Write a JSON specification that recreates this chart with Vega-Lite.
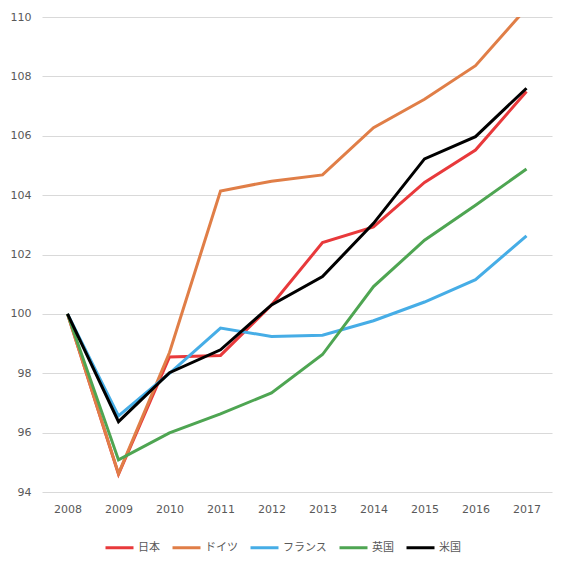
{
  "$schema": "https://vega.github.io/schema/vega-lite/v6.json",
  "width": 510,
  "height": 475,
  "autosize": "none",
  "padding": {"left": 42, "top": 17, "right": 11, "bottom": 74},
  "background": "white",
  "config": {
    "view": {"stroke": null},
    "font": "Noto Sans CJK JP",
    "axis": {"labelFont": "DejaVu Sans", "labelFontSize": 11, "labelColor": "#595959"}
  },
  "data": {
    "values": [
      {"year": "2008", "country": "日本", "value": 100},
      {"year": "2009", "country": "日本", "value": 94.6},
      {"year": "2010", "country": "日本", "value": 98.55},
      {"year": "2011", "country": "日本", "value": 98.6},
      {"year": "2012", "country": "日本", "value": 100.3},
      {"year": "2013", "country": "日本", "value": 102.4},
      {"year": "2014", "country": "日本", "value": 102.93},
      {"year": "2015", "country": "日本", "value": 104.43},
      {"year": "2016", "country": "日本", "value": 105.52},
      {"year": "2017", "country": "日本", "value": 107.49},
      {"year": "2008", "country": "ドイツ", "value": 100},
      {"year": "2009", "country": "ドイツ", "value": 94.62},
      {"year": "2010", "country": "ドイツ", "value": 98.7},
      {"year": "2011", "country": "ドイツ", "value": 104.14},
      {"year": "2012", "country": "ドイツ", "value": 104.47},
      {"year": "2013", "country": "ドイツ", "value": 104.68},
      {"year": "2014", "country": "ドイツ", "value": 106.27},
      {"year": "2015", "country": "ドイツ", "value": 107.23},
      {"year": "2016", "country": "ドイツ", "value": 108.36},
      {"year": "2017", "country": "ドイツ", "value": 110.3},
      {"year": "2008", "country": "フランス", "value": 100},
      {"year": "2009", "country": "フランス", "value": 96.56},
      {"year": "2010", "country": "フランス", "value": 98.0},
      {"year": "2011", "country": "フランス", "value": 99.52},
      {"year": "2012", "country": "フランス", "value": 99.24},
      {"year": "2013", "country": "フランス", "value": 99.28},
      {"year": "2014", "country": "フランス", "value": 99.77},
      {"year": "2015", "country": "フランス", "value": 100.4},
      {"year": "2016", "country": "フランス", "value": 101.15},
      {"year": "2017", "country": "フランス", "value": 102.63},
      {"year": "2008", "country": "英国", "value": 100},
      {"year": "2009", "country": "英国", "value": 95.08},
      {"year": "2010", "country": "英国", "value": 95.99},
      {"year": "2011", "country": "英国", "value": 96.63},
      {"year": "2012", "country": "英国", "value": 97.34},
      {"year": "2013", "country": "英国", "value": 98.63},
      {"year": "2014", "country": "英国", "value": 100.92},
      {"year": "2015", "country": "英国", "value": 102.48},
      {"year": "2016", "country": "英国", "value": 103.66},
      {"year": "2017", "country": "英国", "value": 104.88},
      {"year": "2008", "country": "米国", "value": 100},
      {"year": "2009", "country": "米国", "value": 96.37},
      {"year": "2010", "country": "米国", "value": 98.02},
      {"year": "2011", "country": "米国", "value": 98.79},
      {"year": "2012", "country": "米国", "value": 100.3},
      {"year": "2013", "country": "米国", "value": 101.26},
      {"year": "2014", "country": "米国", "value": 103.05},
      {"year": "2015", "country": "米国", "value": 105.22},
      {"year": "2016", "country": "米国", "value": 105.97},
      {"year": "2017", "country": "米国", "value": 107.6}
    ]
  },
  "mark": {"type": "line", "strokeWidth": 3, "clip": true, "strokeJoin": "miter", "strokeCap": "butt"},
  "encoding": {
    "x": {
      "field": "year",
      "type": "ordinal",
      "scale": {"type": "point", "padding": 0.5},
      "axis": {"title": null, "labelAngle": 0, "domain": false, "ticks": false, "labelPadding": 11, "grid": false}
    },
    "y": {
      "field": "value",
      "type": "quantitative",
      "scale": {"domain": [94, 110], "nice": false, "zero": false},
      "axis": {"title": null, "values": [94, 96, 98, 100, 102, 104, 106, 108, 110], "domain": false, "ticks": false, "labelPadding": 11, "grid": true, "gridColor": "#d9d9d9", "gridWidth": 1}
    },
    "color": {
      "field": "country",
      "type": "nominal",
      "scale": {
        "domain": ["日本", "ドイツ", "フランス", "英国", "米国"],
        "range": ["#e8393b", "#e07e47", "#46ade6", "#4ea552", "#000000"]
      },
      "legend": {
        "title": null,
        "orient": "none",
        "direction": "horizontal",
        "legendX": 62,
        "legendY": 515,
        "symbolType": "stroke",
        "symbolSize": 784,
        "symbolStrokeWidth": 3,
        "labelFont": "Noto Sans CJK JP",
        "labelFontSize": 11,
        "labelColor": "#595959",
        "labelOffset": 3,
        "columnPadding": 6
      }
    }
  }
}
